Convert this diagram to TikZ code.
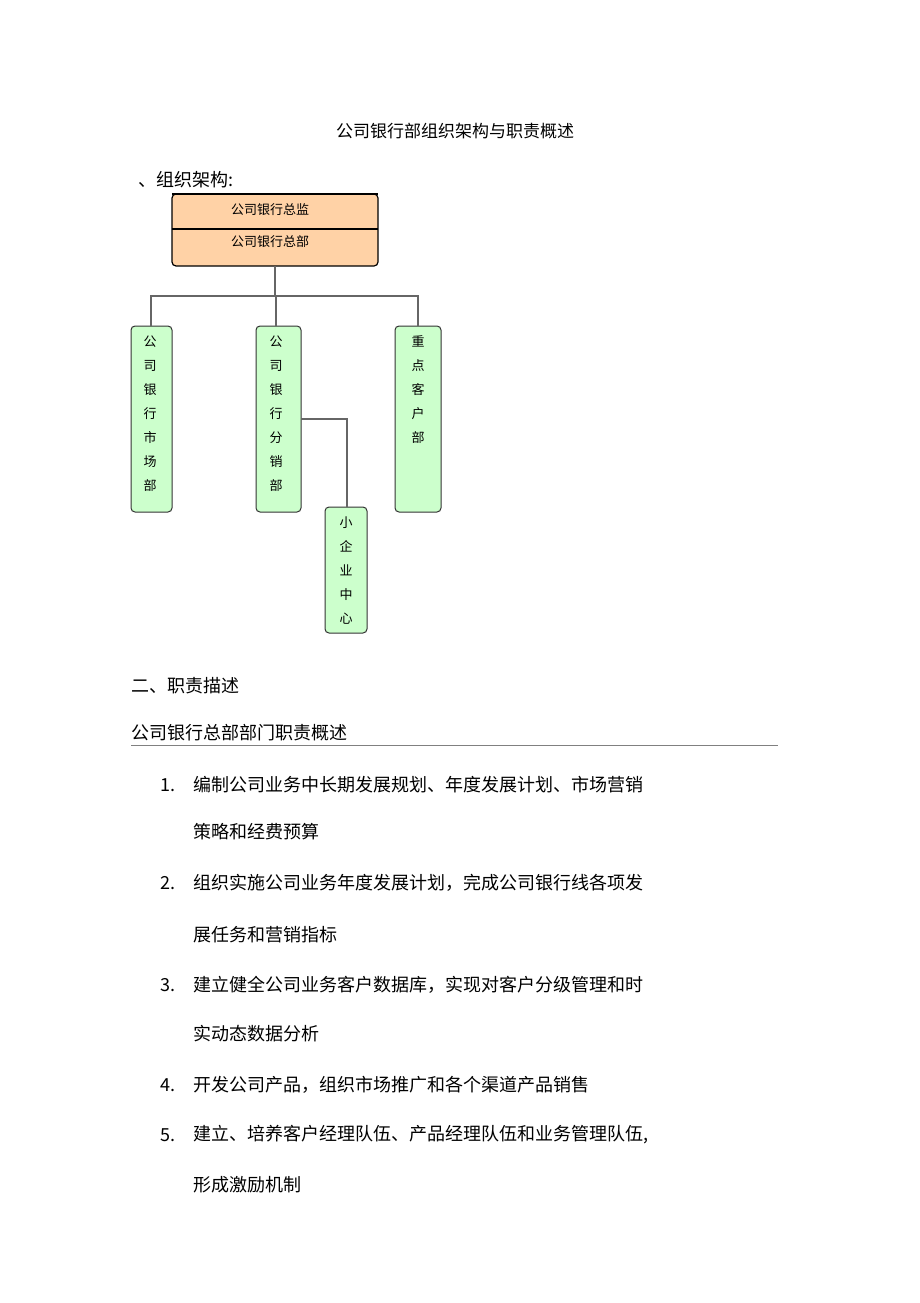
\documentclass[tikz,border=0pt]{standalone}
\usepackage{fontspec}
\newfontfamily\cjk{Noto Sans CJK SC}
\begin{document}
\begin{tikzpicture}[x=1pt,y=-1pt,
  every node/.style={font=\cjk},
  txt/.style={anchor=west,font=\cjk\fontsize{18}{20}\selectfont,inner sep=0},
  ora/.style={draw=black,line width=1.2pt,fill=orange!35!white,rounded corners=4pt},
  grn/.style={draw=black!80,line width=1pt,fill=green!20!white,rounded corners=4pt,minimum width=0,inner sep=0},
  vt/.style={align=center,font=\cjk\fontsize{13}{24}\selectfont,anchor=north},
  ln/.style={draw=gray!80!black,line width=1.2pt}]
\useasboundingbox (0,0) rectangle (920,1303);
\node[font=\cjk\fontsize{17}{20}\selectfont] (title) at (455,131) {公司银行部组织架构与职责概述};
\node[txt] (h1) at (138,180) {、组织架构:};
% top box
\draw[ora] (172,194) rectangle (378,266);
\draw[line width=1.5pt] (172,229) -- (378,229);
\draw[line width=1.5pt] (172,194) -- (378,194);
\node[font=\cjk\fontsize{13}{15}\selectfont] (zj) at (270,210) {公司银行总监};
\node[font=\cjk\fontsize{13}{15}\selectfont] (zb) at (270,242) {公司银行总部};
\coordinate (top) at (275,266);
\coordinate (bus) at (275,296);
% green boxes
\draw[grn] (131,326) rectangle (172,512);
\draw[grn] (256,326) rectangle (301,512);
\draw[grn] (395,326) rectangle (441,512);
\draw[grn] (325,507) rectangle (367,633);
\node[vt] (b1) at (150,332) {公\\司\\银\\行\\市\\场\\部};
\node[vt] (b2) at (276,332) {公\\司\\银\\行\\分\\销\\部};
\node[vt] (b3) at (418,332) {重\\点\\客\\户\\部};
\node[vt] (b4) at (346,513) {小\\企\\业\\中\\心};
\draw[ln] (top) -- (bus);
\draw[ln] (151,326) |- (418,296) -- (418,326);
\draw[ln] (276,296) -- (276,326);
\draw[ln] (301,419) -| (347,507);
% text
\node[txt] (h2) at (131,686) {二、职责描述};
\node[txt] (h3) at (131,733) {公司银行总部部门职责概述};
\draw[gray,line width=0.6pt] (131,745) -- (778,745);
\node[txt] (n1) at (160,785) {1.};
\node[txt] (t1) at (193,785) {编制公司业务中长期发展规划、年度发展计划、市场营销};
\node[txt] (t1b) at (193,832) {策略和经费预算};
\node[txt] (n2) at (160,883) {2.};
\node[txt] (t2) at (193,883) {组织实施公司业务年度发展计划，完成公司银行线各项发};
\node[txt] (t2b) at (193,935) {展任务和营销指标};
\node[txt] (n3) at (160,985) {3.};
\node[txt] (t3) at (193,985) {建立健全公司业务客户数据库，实现对客户分级管理和时};
\node[txt] (t3b) at (193,1034) {实动态数据分析};
\node[txt] (n4) at (160,1085) {4.};
\node[txt] (t4) at (193,1085) {开发公司产品，组织市场推广和各个渠道产品销售};
\node[txt] (n5) at (160,1135) {5.};
\node[txt] (t5) at (193,1135) {建立、培养客户经理队伍、产品经理队伍和业务管理队伍,};
\node[txt] (t5b) at (193,1185) {形成激励机制};
\end{tikzpicture}
\end{document}
